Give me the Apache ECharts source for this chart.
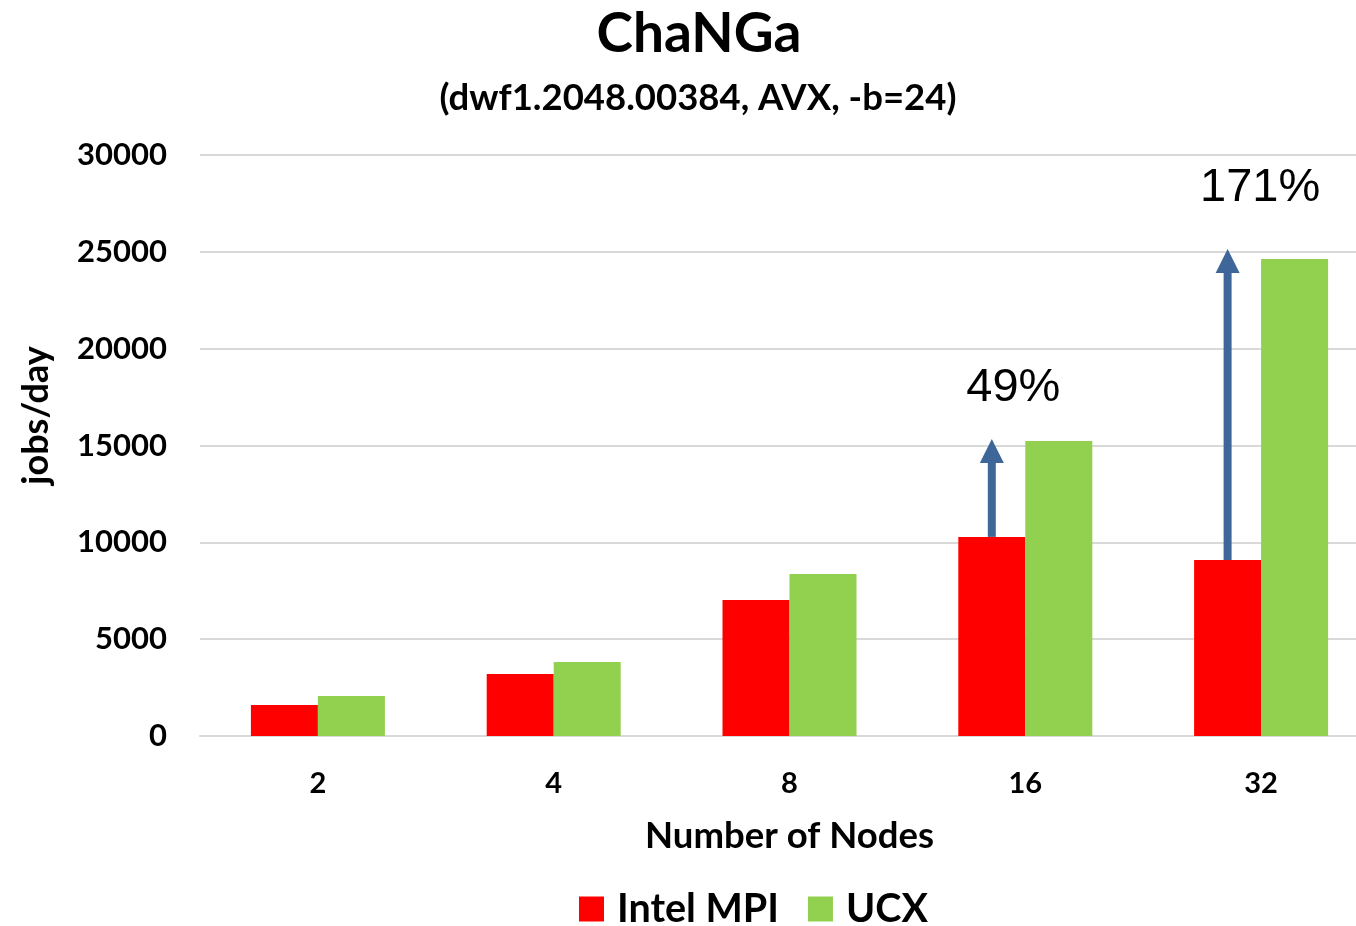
<!DOCTYPE html>
<html>
<head>
<meta charset="utf-8">
<title>ChaNGa</title>
<script src="https://cdn.jsdelivr.net/npm/echarts@6/dist/echarts.min.js"></script>
<style>
  html, body { margin: 0; padding: 0; background: #fff; }
  #chart { width: 1356px; height: 926px; }
</style>
</head>
<body>
<div id="chart"></div>
<script>
// data
const nodes = ['2', '4', '8', '16', '32']
const intelMpi = [1600, 3200, 7020, 10280, 9090]
const ucx = [2070, 3820, 8370, 15230, 24630]

// speed-up arrows: category index, from (Intel MPI top), to (arrow tip)
const arrowCats = [3, 4]
const arrowFrom = [10280, 9090]
const arrowTo = [15340, 25150]
const gainLabels = ['49%', '171%']
const gainLabelAt = [17950, 28300]

const FONT = 'Lato, "Open Sans", sans-serif'
const BAR_W = 67

const chart = echarts.init(document.getElementById('chart'))

const arrowData = arrowCats.map((c, i) => [c, arrowFrom[i], arrowTo[i], i])
const labelShiftX = [-12, -1]  // label centre relative to the category centre

chart.setOption({
  animation: false,
  title: [
    {
      text: 'ChaNGa',
      left: 694,
      textAlign: 'center',
      top: 2,
      textStyle: { fontFamily: FONT, fontSize: 55, fontWeight: 'bold', color: '#000' }
    },
    {
      text: '(dwf1.2048.00384, AVX, -b=24)',
      left: 693,
      textAlign: 'center',
      top: 75,
      textStyle: { fontFamily: FONT, fontSize: 36.5, fontWeight: 'bold', color: '#000' }
    }
  ],
  legend: {
    data: ['Intel MPI', 'UCX'],
    left: 574,
    top: 884,
    itemWidth: 25,
    itemHeight: 25,
    itemGap: 29,
    icon: 'rect',
    textStyle: { fontFamily: FONT, fontSize: 39.5, fontWeight: 'bold', color: '#000', padding: [0, 0, 0, 8] }
  },
  // the plot runs past the right edge of the picture
  grid: { left: 200, right: -23, top: 155, bottom: 190, containLabel: false, outerBoundsMode: 'none' },
  xAxis: {
    type: 'category',
    data: nodes,
    name: 'Number of Nodes',
    nameLocation: 'middle',
    nameGap: 82,
    nameTextStyle: { fontFamily: FONT, fontSize: 36.5, fontWeight: 'bold', color: '#000' },
    axisLine: { lineStyle: { color: '#d9d9d9', width: 2 } },
    axisTick: { show: false },
    axisLabel: { fontFamily: FONT, fontSize: 29, fontWeight: 'bold', color: '#000', margin: 33 }
  },
  yAxis: {
    type: 'value',
    min: 0,
    max: 30000,
    interval: 5000,
    name: 'jobs/day',
    nameLocation: 'middle',
    nameGap: 146,
    nameTextStyle: { fontFamily: FONT, fontSize: 36, fontWeight: 'bold', color: '#000', padding: [0, 0, 0, 60] },
    axisLine: { show: false },
    axisTick: { show: false },
    axisLabel: {
      fontFamily: FONT, fontSize: 31, fontWeight: 'bold', color: '#000', margin: 33,
      formatter: v => String(v)
    },
    splitLine: { lineStyle: { color: '#d9d9d9', width: 2 } }
  },
  series: [
    {
      name: 'Intel MPI',
      type: 'bar',
      data: intelMpi,
      barWidth: BAR_W,
      barGap: '0%',
      itemStyle: { color: '#ff0000' }
    },
    {
      name: 'UCX',
      type: 'bar',
      data: ucx,
      barWidth: BAR_W,
      barGap: '0%',
      itemStyle: { color: '#92d050' }
    },
    {
      type: 'custom',
      z: 5,
      data: arrowData,
      renderItem: function (params, api) {
        const c = api.value(0)
        const p0 = api.coord([c, api.value(1)])
        const p1 = api.coord([c, api.value(2)])
        const idx = api.value(3)
        const x = p0[0] - BAR_W / 2
        const headH = 24, headW = 24, shaftW = 8
        const lab = api.coord([c, gainLabelAt[idx]])
        return {
          type: 'group',
          children: [
            {
              type: 'rect',
              shape: { x: x - shaftW / 2, y: p1[1] + headH - 1, width: shaftW, height: p0[1] - p1[1] - headH + 1 },
              style: { fill: '#3e6699' }
            },
            {
              type: 'polygon',
              shape: { points: [[x, p1[1]], [x + headW / 2, p1[1] + headH], [x - headW / 2, p1[1] + headH]] },
              style: { fill: '#3e6699' }
            },
            {
              type: 'text',
              x: lab[0] + labelShiftX[idx],
              y: lab[1],
              style: {
                text: gainLabels[idx],
                fontFamily: '"Liberation Sans", Arial, sans-serif',
                fontSize: 47,
                fill: '#000',
                align: 'center',
                verticalAlign: 'middle'
              }
            }
          ]
        }
      }
    }
  ]
})
</script>
</body>
</html>
